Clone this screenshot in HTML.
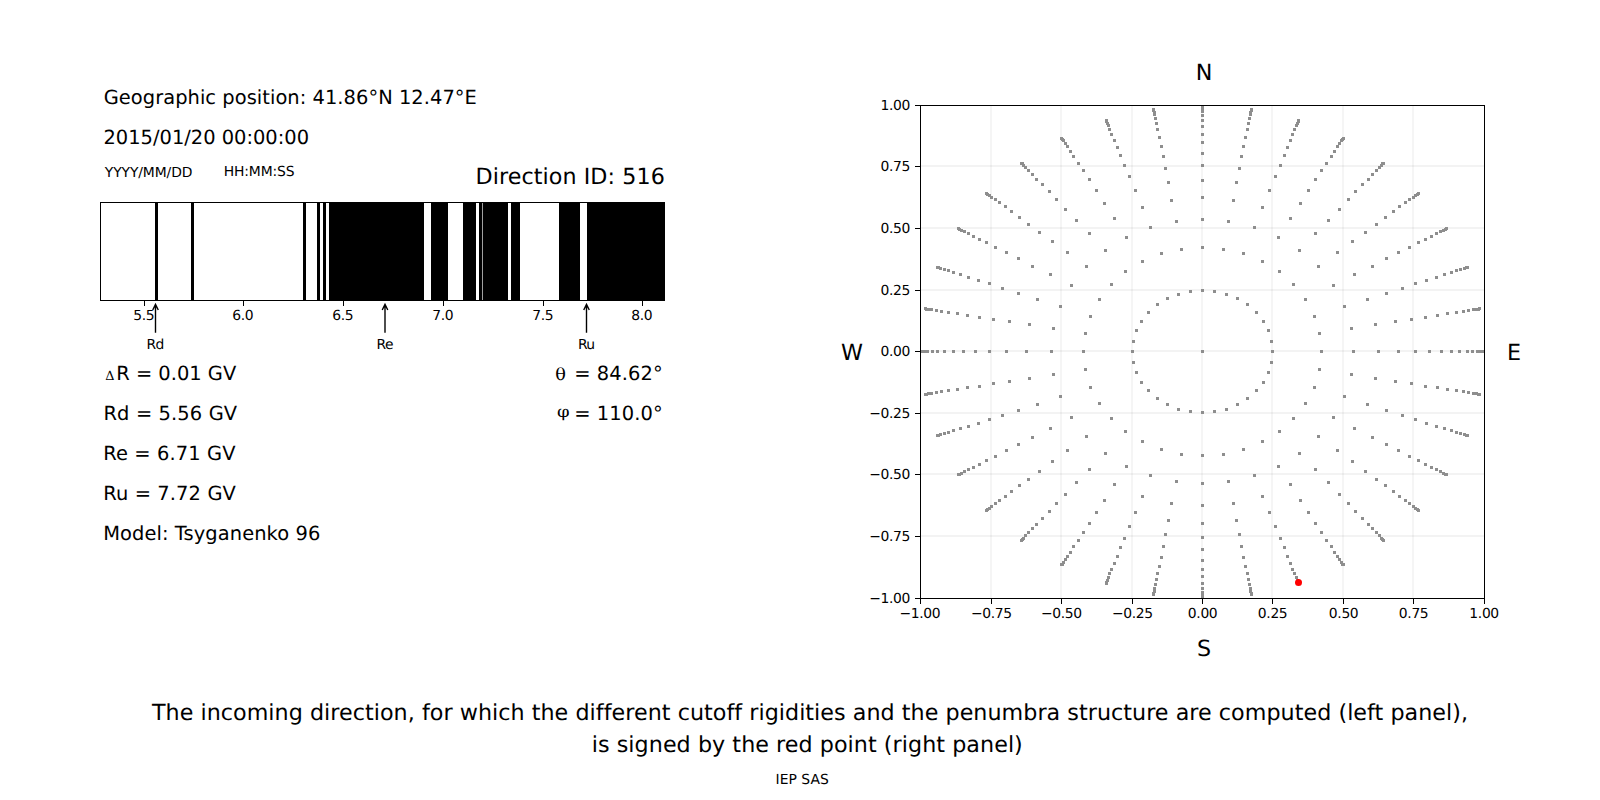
<!DOCTYPE html>
<html lang="en"><head><meta charset="utf-8"><title>Cutoff rigidities</title>
<style>
html,body{margin:0;padding:0;background:#fff;}
body{width:1600px;height:800px;overflow:hidden;}
svg{display:block;position:absolute;left:0;top:0;}
text{font-family:"DejaVu Sans","Liberation Sans",sans-serif;fill:#000;font-variant-ligatures:none;font-feature-settings:"liga" 0,"clig" 0;text-rendering:geometricPrecision;}
.t10{font-size:13.889px}
.t14{font-size:19.444px}
.t16{font-size:22.222px}
.ser{font-family:"DejaVu Serif","Liberation Serif",serif;}
.crisp{shape-rendering:crispEdges}
</style></head><body>
<svg width="1600" height="800" viewBox="0 0 1600 800">
<rect x="0" y="0" width="1600" height="800" fill="#fff"/>

<text class="t14" x="103.75" y="104" letter-spacing="0.0457">Geographic position: 41.86°N 12.47°E</text>
<text class="t14" x="103.5" y="144">2015/01/20 00:00:00</text>
<text class="t10" x="104.85" y="177" letter-spacing="-0.1111">YYYY/MM/DD</text>
<text class="t10" x="223.75" y="176" letter-spacing="-0.1429">HH:MM:SS</text>
<text class="t16" x="475.5" y="184" letter-spacing="0.0781">Direction ID: 516</text>
<g class="crisp">
<rect x="155" y="202" width="3" height="99" fill="#000"/>
<rect x="191" y="202" width="3" height="99" fill="#000"/>
<rect x="303" y="202" width="3" height="99" fill="#000"/>
<rect x="317" y="202" width="3" height="99" fill="#000"/>
<rect x="323" y="202" width="3" height="99" fill="#000"/>
<rect x="329" y="202" width="95" height="99" fill="#000"/>
<rect x="431" y="202" width="17" height="99" fill="#000"/>
<rect x="463" y="202" width="13" height="99" fill="#000"/>
<rect x="479" y="202" width="3" height="99" fill="#000"/>
<rect x="483" y="202" width="25" height="99" fill="#000"/>
<rect x="511" y="202" width="9" height="99" fill="#000"/>
<rect x="559" y="202" width="21" height="99" fill="#000"/>
<rect x="587" y="202" width="78" height="99" fill="#000"/>
<rect x="482" y="203" width="1" height="97" fill="#a0a0a0"/>
<rect x="100" y="202" width="565" height="1" fill="#000"/>
<rect x="100" y="300" width="565" height="1" fill="#000"/>
<rect x="100" y="202" width="1" height="99" fill="#000"/>
<rect x="664" y="202" width="1" height="99" fill="#000"/>
<rect x="144" y="301" width="1" height="5" fill="#000"/>
<rect x="243" y="301" width="1" height="5" fill="#000"/>
<rect x="343" y="301" width="1" height="5" fill="#000"/>
<rect x="443" y="301" width="1" height="5" fill="#000"/>
<rect x="543" y="301" width="1" height="5" fill="#000"/>
<rect x="642" y="301" width="1" height="5" fill="#000"/>
</g>
<text class="t10" x="143.7" y="320" text-anchor="middle" letter-spacing="-0.35">5.5</text>
<text class="t10" x="242.7" y="320" text-anchor="middle" letter-spacing="-0.35">6.0</text>
<text class="t10" x="342.7" y="320" text-anchor="middle" letter-spacing="-0.35">6.5</text>
<text class="t10" x="442.7" y="320" text-anchor="middle" letter-spacing="-0.35">7.0</text>
<text class="t10" x="542.7" y="320" text-anchor="middle" letter-spacing="-0.35">7.5</text>
<text class="t10" x="641.7" y="320" text-anchor="middle" letter-spacing="-0.35">8.0</text>
<path d="M155.5 332.7 L155.5 304.4 M152.72 309.96 L155.5 304.4 L158.28 309.96" fill="none" stroke="#000" stroke-width="1.39" stroke-linecap="butt" stroke-linejoin="miter"/>
<text class="t10" x="155.2" y="349" text-anchor="middle" letter-spacing="-0.6">Rd</text>
<path d="M385 332.7 L385 304.4 M382.22 309.96 L385 304.4 L387.78 309.96" fill="none" stroke="#000" stroke-width="1.39" stroke-linecap="butt" stroke-linejoin="miter"/>
<text class="t10" x="384.7" y="349" text-anchor="middle" letter-spacing="-0.6">Re</text>
<path d="M586.5 332.7 L586.5 304.4 M583.72 309.96 L586.5 304.4 L589.28 309.96" fill="none" stroke="#000" stroke-width="1.39" stroke-linecap="butt" stroke-linejoin="miter"/>
<text class="t10" x="586.2" y="349" text-anchor="middle" letter-spacing="-0.6">Ru</text>
<text class="ser" x="105.2" y="379.9" style="font-size:12.8px">Δ</text>
<text class="t14" x="116.2" y="380" letter-spacing="0.005">R = 0.01 GV</text>
<text class="t14" x="103.5" y="420" letter-spacing="0.1182">Rd = 5.56 GV</text>
<text class="t14" x="103.2" y="460" letter-spacing="0.1182">Re = 6.71 GV</text>
<text class="t14" x="103.2" y="500" letter-spacing="0.1136">Ru = 7.72 GV</text>
<text class="t14" x="103.2" y="540" letter-spacing="0.0789">Model: Tsyganenko 96</text>
<text class="ser" transform="translate(555.35 380) scale(1.06 1)" style="font-size:16.667px">θ</text>
<text class="ser" transform="translate(557.0 416.5) scale(1.08 0.96)" style="font-size:16.667px">φ</text>
<text class="t14" x="574.2" y="380" letter-spacing="0.1">= 84.62°</text>
<text class="t14" x="574.2" y="420" letter-spacing="0.1">= 110.0°</text>
<g class="crisp" fill="#000" fill-opacity="0.04">
<rect x="990" y="106" width="2" height="492"/>
<rect x="1060" y="106" width="2" height="492"/>
<rect x="1131" y="106" width="2" height="492"/>
<rect x="1201" y="106" width="2" height="492"/>
<rect x="1271" y="106" width="2" height="492"/>
<rect x="1342" y="106" width="2" height="492"/>
<rect x="1412" y="106" width="2" height="492"/>
<rect x="921" y="535" width="563" height="2" fill-opacity="0.047"/>
<rect x="921" y="473" width="563" height="2" fill-opacity="0.047"/>
<rect x="921" y="412" width="563" height="2" fill-opacity="0.047"/>
<rect x="921" y="350" width="563" height="2" fill-opacity="0.047"/>
<rect x="921" y="289" width="563" height="2" fill-opacity="0.047"/>
<rect x="921" y="227" width="563" height="2" fill-opacity="0.047"/>
<rect x="921" y="165" width="563" height="2" fill-opacity="0.047"/>
</g>
<clipPath id="c"><rect x="920" y="105" width="565" height="494"/></clipPath>
<g class="crisp" clip-path="url(#c)" fill="#8e8e8e">
<rect x="1201" y="350" width="3" height="3"/>
<rect x="1201" y="289" width="3" height="3"/>
<rect x="1213" y="290" width="3" height="3"/>
<rect x="1225" y="293" width="3" height="3"/>
<rect x="1236" y="297" width="3" height="3"/>
<rect x="1246" y="303" width="3" height="3"/>
<rect x="1255" y="311" width="3" height="3"/>
<rect x="1262" y="320" width="3" height="3"/>
<rect x="1267" y="329" width="3" height="3"/>
<rect x="1270" y="340" width="3" height="3"/>
<rect x="1271" y="350" width="3" height="3"/>
<rect x="1270" y="361" width="3" height="3"/>
<rect x="1267" y="371" width="3" height="3"/>
<rect x="1262" y="381" width="3" height="3"/>
<rect x="1255" y="389" width="3" height="3"/>
<rect x="1246" y="397" width="3" height="3"/>
<rect x="1236" y="403" width="3" height="3"/>
<rect x="1225" y="408" width="3" height="3"/>
<rect x="1213" y="410" width="3" height="3"/>
<rect x="1201" y="411" width="3" height="3"/>
<rect x="1189" y="410" width="3" height="3"/>
<rect x="1177" y="408" width="3" height="3"/>
<rect x="1166" y="403" width="3" height="3"/>
<rect x="1156" y="397" width="3" height="3"/>
<rect x="1147" y="389" width="3" height="3"/>
<rect x="1140" y="381" width="3" height="3"/>
<rect x="1135" y="371" width="3" height="3"/>
<rect x="1132" y="361" width="3" height="3"/>
<rect x="1131" y="350" width="3" height="3"/>
<rect x="1132" y="340" width="3" height="3"/>
<rect x="1135" y="329" width="3" height="3"/>
<rect x="1140" y="320" width="3" height="3"/>
<rect x="1147" y="311" width="3" height="3"/>
<rect x="1156" y="303" width="3" height="3"/>
<rect x="1166" y="297" width="3" height="3"/>
<rect x="1177" y="293" width="3" height="3"/>
<rect x="1189" y="290" width="3" height="3"/>
<rect x="1201" y="246" width="3" height="3"/>
<rect x="1222" y="248" width="3" height="3"/>
<rect x="1242" y="252" width="3" height="3"/>
<rect x="1261" y="260" width="3" height="3"/>
<rect x="1278" y="270" width="3" height="3"/>
<rect x="1292" y="283" width="3" height="3"/>
<rect x="1304" y="298" width="3" height="3"/>
<rect x="1313" y="315" width="3" height="3"/>
<rect x="1318" y="332" width="3" height="3"/>
<rect x="1320" y="350" width="3" height="3"/>
<rect x="1318" y="368" width="3" height="3"/>
<rect x="1313" y="386" width="3" height="3"/>
<rect x="1304" y="402" width="3" height="3"/>
<rect x="1292" y="417" width="3" height="3"/>
<rect x="1278" y="430" width="3" height="3"/>
<rect x="1261" y="440" width="3" height="3"/>
<rect x="1242" y="448" width="3" height="3"/>
<rect x="1222" y="453" width="3" height="3"/>
<rect x="1201" y="454" width="3" height="3"/>
<rect x="1180" y="453" width="3" height="3"/>
<rect x="1160" y="448" width="3" height="3"/>
<rect x="1141" y="440" width="3" height="3"/>
<rect x="1124" y="430" width="3" height="3"/>
<rect x="1110" y="417" width="3" height="3"/>
<rect x="1098" y="402" width="3" height="3"/>
<rect x="1089" y="386" width="3" height="3"/>
<rect x="1084" y="368" width="3" height="3"/>
<rect x="1082" y="350" width="3" height="3"/>
<rect x="1084" y="332" width="3" height="3"/>
<rect x="1089" y="315" width="3" height="3"/>
<rect x="1098" y="298" width="3" height="3"/>
<rect x="1110" y="283" width="3" height="3"/>
<rect x="1124" y="270" width="3" height="3"/>
<rect x="1141" y="260" width="3" height="3"/>
<rect x="1160" y="252" width="3" height="3"/>
<rect x="1180" y="248" width="3" height="3"/>
<rect x="1201" y="218" width="3" height="3"/>
<rect x="1227" y="220" width="3" height="3"/>
<rect x="1253" y="226" width="3" height="3"/>
<rect x="1277" y="236" width="3" height="3"/>
<rect x="1298" y="249" width="3" height="3"/>
<rect x="1317" y="265" width="3" height="3"/>
<rect x="1332" y="284" width="3" height="3"/>
<rect x="1343" y="305" width="3" height="3"/>
<rect x="1350" y="327" width="3" height="3"/>
<rect x="1352" y="350" width="3" height="3"/>
<rect x="1350" y="373" width="3" height="3"/>
<rect x="1343" y="395" width="3" height="3"/>
<rect x="1332" y="416" width="3" height="3"/>
<rect x="1317" y="435" width="3" height="3"/>
<rect x="1298" y="452" width="3" height="3"/>
<rect x="1277" y="465" width="3" height="3"/>
<rect x="1253" y="474" width="3" height="3"/>
<rect x="1227" y="480" width="3" height="3"/>
<rect x="1201" y="482" width="3" height="3"/>
<rect x="1175" y="480" width="3" height="3"/>
<rect x="1149" y="474" width="3" height="3"/>
<rect x="1125" y="465" width="3" height="3"/>
<rect x="1104" y="452" width="3" height="3"/>
<rect x="1085" y="435" width="3" height="3"/>
<rect x="1070" y="416" width="3" height="3"/>
<rect x="1059" y="395" width="3" height="3"/>
<rect x="1052" y="373" width="3" height="3"/>
<rect x="1050" y="350" width="3" height="3"/>
<rect x="1052" y="327" width="3" height="3"/>
<rect x="1059" y="305" width="3" height="3"/>
<rect x="1070" y="284" width="3" height="3"/>
<rect x="1085" y="265" width="3" height="3"/>
<rect x="1104" y="249" width="3" height="3"/>
<rect x="1125" y="236" width="3" height="3"/>
<rect x="1149" y="226" width="3" height="3"/>
<rect x="1175" y="220" width="3" height="3"/>
<rect x="1201" y="196" width="3" height="3"/>
<rect x="1232" y="199" width="3" height="3"/>
<rect x="1261" y="206" width="3" height="3"/>
<rect x="1289" y="217" width="3" height="3"/>
<rect x="1314" y="232" width="3" height="3"/>
<rect x="1336" y="251" width="3" height="3"/>
<rect x="1353" y="273" width="3" height="3"/>
<rect x="1366" y="298" width="3" height="3"/>
<rect x="1374" y="323" width="3" height="3"/>
<rect x="1377" y="350" width="3" height="3"/>
<rect x="1374" y="377" width="3" height="3"/>
<rect x="1366" y="403" width="3" height="3"/>
<rect x="1353" y="427" width="3" height="3"/>
<rect x="1336" y="449" width="3" height="3"/>
<rect x="1314" y="468" width="3" height="3"/>
<rect x="1289" y="483" width="3" height="3"/>
<rect x="1261" y="495" width="3" height="3"/>
<rect x="1232" y="502" width="3" height="3"/>
<rect x="1201" y="504" width="3" height="3"/>
<rect x="1170" y="502" width="3" height="3"/>
<rect x="1141" y="495" width="3" height="3"/>
<rect x="1113" y="483" width="3" height="3"/>
<rect x="1088" y="468" width="3" height="3"/>
<rect x="1066" y="449" width="3" height="3"/>
<rect x="1049" y="427" width="3" height="3"/>
<rect x="1036" y="403" width="3" height="3"/>
<rect x="1028" y="377" width="3" height="3"/>
<rect x="1025" y="350" width="3" height="3"/>
<rect x="1028" y="323" width="3" height="3"/>
<rect x="1036" y="298" width="3" height="3"/>
<rect x="1049" y="273" width="3" height="3"/>
<rect x="1066" y="251" width="3" height="3"/>
<rect x="1088" y="232" width="3" height="3"/>
<rect x="1113" y="217" width="3" height="3"/>
<rect x="1141" y="206" width="3" height="3"/>
<rect x="1170" y="199" width="3" height="3"/>
<rect x="1201" y="179" width="3" height="3"/>
<rect x="1235" y="181" width="3" height="3"/>
<rect x="1268" y="189" width="3" height="3"/>
<rect x="1299" y="202" width="3" height="3"/>
<rect x="1327" y="219" width="3" height="3"/>
<rect x="1351" y="240" width="3" height="3"/>
<rect x="1371" y="265" width="3" height="3"/>
<rect x="1385" y="292" width="3" height="3"/>
<rect x="1394" y="320" width="3" height="3"/>
<rect x="1397" y="350" width="3" height="3"/>
<rect x="1394" y="380" width="3" height="3"/>
<rect x="1385" y="409" width="3" height="3"/>
<rect x="1371" y="436" width="3" height="3"/>
<rect x="1351" y="460" width="3" height="3"/>
<rect x="1327" y="481" width="3" height="3"/>
<rect x="1299" y="499" width="3" height="3"/>
<rect x="1268" y="511" width="3" height="3"/>
<rect x="1235" y="519" width="3" height="3"/>
<rect x="1201" y="522" width="3" height="3"/>
<rect x="1167" y="519" width="3" height="3"/>
<rect x="1134" y="511" width="3" height="3"/>
<rect x="1103" y="499" width="3" height="3"/>
<rect x="1075" y="481" width="3" height="3"/>
<rect x="1051" y="460" width="3" height="3"/>
<rect x="1031" y="436" width="3" height="3"/>
<rect x="1017" y="409" width="3" height="3"/>
<rect x="1008" y="380" width="3" height="3"/>
<rect x="1005" y="350" width="3" height="3"/>
<rect x="1008" y="320" width="3" height="3"/>
<rect x="1017" y="292" width="3" height="3"/>
<rect x="1031" y="265" width="3" height="3"/>
<rect x="1051" y="240" width="3" height="3"/>
<rect x="1075" y="219" width="3" height="3"/>
<rect x="1103" y="202" width="3" height="3"/>
<rect x="1134" y="189" width="3" height="3"/>
<rect x="1167" y="181" width="3" height="3"/>
<rect x="1201" y="164" width="3" height="3"/>
<rect x="1238" y="167" width="3" height="3"/>
<rect x="1274" y="175" width="3" height="3"/>
<rect x="1307" y="189" width="3" height="3"/>
<rect x="1338" y="208" width="3" height="3"/>
<rect x="1364" y="231" width="3" height="3"/>
<rect x="1385" y="257" width="3" height="3"/>
<rect x="1401" y="287" width="3" height="3"/>
<rect x="1410" y="318" width="3" height="3"/>
<rect x="1414" y="350" width="3" height="3"/>
<rect x="1410" y="382" width="3" height="3"/>
<rect x="1401" y="414" width="3" height="3"/>
<rect x="1385" y="443" width="3" height="3"/>
<rect x="1364" y="470" width="3" height="3"/>
<rect x="1338" y="493" width="3" height="3"/>
<rect x="1307" y="511" width="3" height="3"/>
<rect x="1274" y="525" width="3" height="3"/>
<rect x="1238" y="533" width="3" height="3"/>
<rect x="1201" y="536" width="3" height="3"/>
<rect x="1164" y="533" width="3" height="3"/>
<rect x="1128" y="525" width="3" height="3"/>
<rect x="1095" y="511" width="3" height="3"/>
<rect x="1064" y="493" width="3" height="3"/>
<rect x="1038" y="470" width="3" height="3"/>
<rect x="1017" y="443" width="3" height="3"/>
<rect x="1001" y="414" width="3" height="3"/>
<rect x="992" y="382" width="3" height="3"/>
<rect x="988" y="350" width="3" height="3"/>
<rect x="992" y="318" width="3" height="3"/>
<rect x="1001" y="287" width="3" height="3"/>
<rect x="1017" y="257" width="3" height="3"/>
<rect x="1038" y="231" width="3" height="3"/>
<rect x="1064" y="208" width="3" height="3"/>
<rect x="1095" y="189" width="3" height="3"/>
<rect x="1128" y="175" width="3" height="3"/>
<rect x="1164" y="167" width="3" height="3"/>
<rect x="1201" y="152" width="3" height="3"/>
<rect x="1240" y="155" width="3" height="3"/>
<rect x="1279" y="164" width="3" height="3"/>
<rect x="1314" y="178" width="3" height="3"/>
<rect x="1347" y="198" width="3" height="3"/>
<rect x="1375" y="223" width="3" height="3"/>
<rect x="1397" y="251" width="3" height="3"/>
<rect x="1414" y="282" width="3" height="3"/>
<rect x="1424" y="316" width="3" height="3"/>
<rect x="1428" y="350" width="3" height="3"/>
<rect x="1424" y="385" width="3" height="3"/>
<rect x="1414" y="418" width="3" height="3"/>
<rect x="1397" y="449" width="3" height="3"/>
<rect x="1375" y="478" width="3" height="3"/>
<rect x="1347" y="502" width="3" height="3"/>
<rect x="1314" y="522" width="3" height="3"/>
<rect x="1279" y="537" width="3" height="3"/>
<rect x="1240" y="545" width="3" height="3"/>
<rect x="1201" y="548" width="3" height="3"/>
<rect x="1162" y="545" width="3" height="3"/>
<rect x="1123" y="537" width="3" height="3"/>
<rect x="1088" y="522" width="3" height="3"/>
<rect x="1055" y="502" width="3" height="3"/>
<rect x="1027" y="478" width="3" height="3"/>
<rect x="1005" y="449" width="3" height="3"/>
<rect x="988" y="418" width="3" height="3"/>
<rect x="978" y="385" width="3" height="3"/>
<rect x="974" y="350" width="3" height="3"/>
<rect x="978" y="316" width="3" height="3"/>
<rect x="988" y="282" width="3" height="3"/>
<rect x="1005" y="251" width="3" height="3"/>
<rect x="1027" y="223" width="3" height="3"/>
<rect x="1055" y="198" width="3" height="3"/>
<rect x="1088" y="178" width="3" height="3"/>
<rect x="1123" y="164" width="3" height="3"/>
<rect x="1162" y="155" width="3" height="3"/>
<rect x="1201" y="141" width="3" height="3"/>
<rect x="1242" y="145" width="3" height="3"/>
<rect x="1283" y="154" width="3" height="3"/>
<rect x="1320" y="169" width="3" height="3"/>
<rect x="1354" y="190" width="3" height="3"/>
<rect x="1384" y="216" width="3" height="3"/>
<rect x="1408" y="246" width="3" height="3"/>
<rect x="1425" y="279" width="3" height="3"/>
<rect x="1436" y="314" width="3" height="3"/>
<rect x="1440" y="350" width="3" height="3"/>
<rect x="1436" y="386" width="3" height="3"/>
<rect x="1425" y="422" width="3" height="3"/>
<rect x="1408" y="455" width="3" height="3"/>
<rect x="1384" y="484" width="3" height="3"/>
<rect x="1354" y="510" width="3" height="3"/>
<rect x="1320" y="531" width="3" height="3"/>
<rect x="1283" y="546" width="3" height="3"/>
<rect x="1242" y="556" width="3" height="3"/>
<rect x="1201" y="559" width="3" height="3"/>
<rect x="1160" y="556" width="3" height="3"/>
<rect x="1119" y="546" width="3" height="3"/>
<rect x="1082" y="531" width="3" height="3"/>
<rect x="1048" y="510" width="3" height="3"/>
<rect x="1018" y="484" width="3" height="3"/>
<rect x="994" y="455" width="3" height="3"/>
<rect x="977" y="422" width="3" height="3"/>
<rect x="966" y="386" width="3" height="3"/>
<rect x="962" y="350" width="3" height="3"/>
<rect x="966" y="314" width="3" height="3"/>
<rect x="977" y="279" width="3" height="3"/>
<rect x="994" y="246" width="3" height="3"/>
<rect x="1018" y="216" width="3" height="3"/>
<rect x="1048" y="190" width="3" height="3"/>
<rect x="1082" y="169" width="3" height="3"/>
<rect x="1119" y="154" width="3" height="3"/>
<rect x="1160" y="145" width="3" height="3"/>
<rect x="1201" y="133" width="3" height="3"/>
<rect x="1244" y="136" width="3" height="3"/>
<rect x="1286" y="146" width="3" height="3"/>
<rect x="1325" y="162" width="3" height="3"/>
<rect x="1361" y="183" width="3" height="3"/>
<rect x="1392" y="210" width="3" height="3"/>
<rect x="1417" y="241" width="3" height="3"/>
<rect x="1435" y="276" width="3" height="3"/>
<rect x="1446" y="312" width="3" height="3"/>
<rect x="1450" y="350" width="3" height="3"/>
<rect x="1446" y="388" width="3" height="3"/>
<rect x="1435" y="425" width="3" height="3"/>
<rect x="1417" y="459" width="3" height="3"/>
<rect x="1392" y="490" width="3" height="3"/>
<rect x="1361" y="517" width="3" height="3"/>
<rect x="1325" y="539" width="3" height="3"/>
<rect x="1286" y="555" width="3" height="3"/>
<rect x="1244" y="565" width="3" height="3"/>
<rect x="1201" y="568" width="3" height="3"/>
<rect x="1158" y="565" width="3" height="3"/>
<rect x="1116" y="555" width="3" height="3"/>
<rect x="1077" y="539" width="3" height="3"/>
<rect x="1041" y="517" width="3" height="3"/>
<rect x="1010" y="490" width="3" height="3"/>
<rect x="985" y="459" width="3" height="3"/>
<rect x="967" y="425" width="3" height="3"/>
<rect x="956" y="388" width="3" height="3"/>
<rect x="952" y="350" width="3" height="3"/>
<rect x="956" y="312" width="3" height="3"/>
<rect x="967" y="276" width="3" height="3"/>
<rect x="985" y="241" width="3" height="3"/>
<rect x="1010" y="210" width="3" height="3"/>
<rect x="1041" y="183" width="3" height="3"/>
<rect x="1077" y="162" width="3" height="3"/>
<rect x="1116" y="146" width="3" height="3"/>
<rect x="1158" y="136" width="3" height="3"/>
<rect x="1201" y="125" width="3" height="3"/>
<rect x="1246" y="128" width="3" height="3"/>
<rect x="1289" y="139" width="3" height="3"/>
<rect x="1330" y="155" width="3" height="3"/>
<rect x="1367" y="178" width="3" height="3"/>
<rect x="1398" y="205" width="3" height="3"/>
<rect x="1424" y="238" width="3" height="3"/>
<rect x="1443" y="273" width="3" height="3"/>
<rect x="1455" y="311" width="3" height="3"/>
<rect x="1458" y="350" width="3" height="3"/>
<rect x="1455" y="389" width="3" height="3"/>
<rect x="1443" y="427" width="3" height="3"/>
<rect x="1424" y="463" width="3" height="3"/>
<rect x="1398" y="495" width="3" height="3"/>
<rect x="1367" y="523" width="3" height="3"/>
<rect x="1330" y="545" width="3" height="3"/>
<rect x="1289" y="562" width="3" height="3"/>
<rect x="1246" y="572" width="3" height="3"/>
<rect x="1201" y="575" width="3" height="3"/>
<rect x="1156" y="572" width="3" height="3"/>
<rect x="1113" y="562" width="3" height="3"/>
<rect x="1072" y="545" width="3" height="3"/>
<rect x="1035" y="523" width="3" height="3"/>
<rect x="1004" y="495" width="3" height="3"/>
<rect x="978" y="463" width="3" height="3"/>
<rect x="959" y="427" width="3" height="3"/>
<rect x="947" y="389" width="3" height="3"/>
<rect x="943" y="350" width="3" height="3"/>
<rect x="947" y="311" width="3" height="3"/>
<rect x="959" y="273" width="3" height="3"/>
<rect x="978" y="238" width="3" height="3"/>
<rect x="1004" y="205" width="3" height="3"/>
<rect x="1035" y="178" width="3" height="3"/>
<rect x="1072" y="155" width="3" height="3"/>
<rect x="1113" y="139" width="3" height="3"/>
<rect x="1156" y="128" width="3" height="3"/>
<rect x="1201" y="119" width="3" height="3"/>
<rect x="1247" y="122" width="3" height="3"/>
<rect x="1291" y="133" width="3" height="3"/>
<rect x="1333" y="150" width="3" height="3"/>
<rect x="1371" y="173" width="3" height="3"/>
<rect x="1404" y="201" width="3" height="3"/>
<rect x="1430" y="235" width="3" height="3"/>
<rect x="1450" y="271" width="3" height="3"/>
<rect x="1462" y="310" width="3" height="3"/>
<rect x="1466" y="350" width="3" height="3"/>
<rect x="1462" y="390" width="3" height="3"/>
<rect x="1450" y="429" width="3" height="3"/>
<rect x="1430" y="466" width="3" height="3"/>
<rect x="1404" y="499" width="3" height="3"/>
<rect x="1371" y="527" width="3" height="3"/>
<rect x="1333" y="551" width="3" height="3"/>
<rect x="1291" y="568" width="3" height="3"/>
<rect x="1247" y="578" width="3" height="3"/>
<rect x="1201" y="582" width="3" height="3"/>
<rect x="1155" y="578" width="3" height="3"/>
<rect x="1110" y="568" width="3" height="3"/>
<rect x="1069" y="551" width="3" height="3"/>
<rect x="1031" y="527" width="3" height="3"/>
<rect x="998" y="499" width="3" height="3"/>
<rect x="972" y="466" width="3" height="3"/>
<rect x="952" y="429" width="3" height="3"/>
<rect x="940" y="390" width="3" height="3"/>
<rect x="936" y="350" width="3" height="3"/>
<rect x="940" y="310" width="3" height="3"/>
<rect x="952" y="271" width="3" height="3"/>
<rect x="972" y="235" width="3" height="3"/>
<rect x="998" y="201" width="3" height="3"/>
<rect x="1031" y="173" width="3" height="3"/>
<rect x="1069" y="150" width="3" height="3"/>
<rect x="1110" y="133" width="3" height="3"/>
<rect x="1155" y="122" width="3" height="3"/>
<rect x="1201" y="114" width="3" height="3"/>
<rect x="1248" y="117" width="3" height="3"/>
<rect x="1293" y="128" width="3" height="3"/>
<rect x="1336" y="145" width="3" height="3"/>
<rect x="1375" y="169" width="3" height="3"/>
<rect x="1408" y="198" width="3" height="3"/>
<rect x="1435" y="232" width="3" height="3"/>
<rect x="1455" y="269" width="3" height="3"/>
<rect x="1467" y="309" width="3" height="3"/>
<rect x="1471" y="350" width="3" height="3"/>
<rect x="1467" y="391" width="3" height="3"/>
<rect x="1455" y="431" width="3" height="3"/>
<rect x="1435" y="468" width="3" height="3"/>
<rect x="1408" y="502" width="3" height="3"/>
<rect x="1375" y="531" width="3" height="3"/>
<rect x="1336" y="555" width="3" height="3"/>
<rect x="1293" y="572" width="3" height="3"/>
<rect x="1248" y="583" width="3" height="3"/>
<rect x="1201" y="587" width="3" height="3"/>
<rect x="1154" y="583" width="3" height="3"/>
<rect x="1108" y="572" width="3" height="3"/>
<rect x="1066" y="555" width="3" height="3"/>
<rect x="1027" y="531" width="3" height="3"/>
<rect x="994" y="502" width="3" height="3"/>
<rect x="967" y="468" width="3" height="3"/>
<rect x="947" y="431" width="3" height="3"/>
<rect x="935" y="391" width="3" height="3"/>
<rect x="931" y="350" width="3" height="3"/>
<rect x="935" y="309" width="3" height="3"/>
<rect x="947" y="269" width="3" height="3"/>
<rect x="967" y="232" width="3" height="3"/>
<rect x="994" y="198" width="3" height="3"/>
<rect x="1027" y="169" width="3" height="3"/>
<rect x="1066" y="145" width="3" height="3"/>
<rect x="1108" y="128" width="3" height="3"/>
<rect x="1154" y="117" width="3" height="3"/>
<rect x="1201" y="110" width="3" height="3"/>
<rect x="1249" y="113" width="3" height="3"/>
<rect x="1295" y="124" width="3" height="3"/>
<rect x="1338" y="142" width="3" height="3"/>
<rect x="1378" y="166" width="3" height="3"/>
<rect x="1412" y="196" width="3" height="3"/>
<rect x="1439" y="230" width="3" height="3"/>
<rect x="1459" y="268" width="3" height="3"/>
<rect x="1472" y="308" width="3" height="3"/>
<rect x="1476" y="350" width="3" height="3"/>
<rect x="1472" y="392" width="3" height="3"/>
<rect x="1459" y="432" width="3" height="3"/>
<rect x="1439" y="470" width="3" height="3"/>
<rect x="1412" y="505" width="3" height="3"/>
<rect x="1378" y="534" width="3" height="3"/>
<rect x="1338" y="558" width="3" height="3"/>
<rect x="1295" y="576" width="3" height="3"/>
<rect x="1249" y="587" width="3" height="3"/>
<rect x="1201" y="591" width="3" height="3"/>
<rect x="1153" y="587" width="3" height="3"/>
<rect x="1107" y="576" width="3" height="3"/>
<rect x="1064" y="558" width="3" height="3"/>
<rect x="1024" y="534" width="3" height="3"/>
<rect x="990" y="505" width="3" height="3"/>
<rect x="963" y="470" width="3" height="3"/>
<rect x="943" y="432" width="3" height="3"/>
<rect x="930" y="392" width="3" height="3"/>
<rect x="926" y="350" width="3" height="3"/>
<rect x="930" y="308" width="3" height="3"/>
<rect x="943" y="268" width="3" height="3"/>
<rect x="963" y="230" width="3" height="3"/>
<rect x="990" y="196" width="3" height="3"/>
<rect x="1024" y="166" width="3" height="3"/>
<rect x="1064" y="142" width="3" height="3"/>
<rect x="1107" y="124" width="3" height="3"/>
<rect x="1153" y="113" width="3" height="3"/>
<rect x="1201" y="107" width="3" height="3"/>
<rect x="1249" y="111" width="3" height="3"/>
<rect x="1296" y="122" width="3" height="3"/>
<rect x="1340" y="139" width="3" height="3"/>
<rect x="1380" y="164" width="3" height="3"/>
<rect x="1414" y="194" width="3" height="3"/>
<rect x="1442" y="229" width="3" height="3"/>
<rect x="1463" y="267" width="3" height="3"/>
<rect x="1475" y="308" width="3" height="3"/>
<rect x="1479" y="350" width="3" height="3"/>
<rect x="1475" y="392" width="3" height="3"/>
<rect x="1463" y="433" width="3" height="3"/>
<rect x="1442" y="472" width="3" height="3"/>
<rect x="1414" y="507" width="3" height="3"/>
<rect x="1380" y="537" width="3" height="3"/>
<rect x="1340" y="561" width="3" height="3"/>
<rect x="1296" y="579" width="3" height="3"/>
<rect x="1249" y="590" width="3" height="3"/>
<rect x="1201" y="594" width="3" height="3"/>
<rect x="1153" y="590" width="3" height="3"/>
<rect x="1106" y="579" width="3" height="3"/>
<rect x="1062" y="561" width="3" height="3"/>
<rect x="1022" y="537" width="3" height="3"/>
<rect x="988" y="507" width="3" height="3"/>
<rect x="960" y="472" width="3" height="3"/>
<rect x="939" y="433" width="3" height="3"/>
<rect x="927" y="392" width="3" height="3"/>
<rect x="923" y="350" width="3" height="3"/>
<rect x="927" y="308" width="3" height="3"/>
<rect x="939" y="267" width="3" height="3"/>
<rect x="960" y="229" width="3" height="3"/>
<rect x="988" y="194" width="3" height="3"/>
<rect x="1022" y="164" width="3" height="3"/>
<rect x="1062" y="139" width="3" height="3"/>
<rect x="1106" y="122" width="3" height="3"/>
<rect x="1153" y="111" width="3" height="3"/>
<rect x="1201" y="105" width="3" height="3"/>
<rect x="1250" y="109" width="3" height="3"/>
<rect x="1297" y="120" width="3" height="3"/>
<rect x="1341" y="138" width="3" height="3"/>
<rect x="1381" y="162" width="3" height="3"/>
<rect x="1416" y="193" width="3" height="3"/>
<rect x="1444" y="228" width="3" height="3"/>
<rect x="1465" y="266" width="3" height="3"/>
<rect x="1477" y="308" width="3" height="3"/>
<rect x="1482" y="350" width="3" height="3"/>
<rect x="1477" y="393" width="3" height="3"/>
<rect x="1465" y="434" width="3" height="3"/>
<rect x="1444" y="473" width="3" height="3"/>
<rect x="1416" y="508" width="3" height="3"/>
<rect x="1381" y="538" width="3" height="3"/>
<rect x="1341" y="563" width="3" height="3"/>
<rect x="1297" y="581" width="3" height="3"/>
<rect x="1250" y="592" width="3" height="3"/>
<rect x="1201" y="596" width="3" height="3"/>
<rect x="1152" y="592" width="3" height="3"/>
<rect x="1105" y="581" width="3" height="3"/>
<rect x="1061" y="563" width="3" height="3"/>
<rect x="1021" y="538" width="3" height="3"/>
<rect x="986" y="508" width="3" height="3"/>
<rect x="958" y="473" width="3" height="3"/>
<rect x="937" y="434" width="3" height="3"/>
<rect x="925" y="393" width="3" height="3"/>
<rect x="920" y="350" width="3" height="3"/>
<rect x="925" y="308" width="3" height="3"/>
<rect x="937" y="266" width="3" height="3"/>
<rect x="958" y="228" width="3" height="3"/>
<rect x="986" y="193" width="3" height="3"/>
<rect x="1021" y="162" width="3" height="3"/>
<rect x="1061" y="138" width="3" height="3"/>
<rect x="1105" y="120" width="3" height="3"/>
<rect x="1152" y="109" width="3" height="3"/>
<rect x="1201" y="104" width="3" height="3"/>
<rect x="1250" y="108" width="3" height="3"/>
<rect x="1297" y="119" width="3" height="3"/>
<rect x="1342" y="137" width="3" height="3"/>
<rect x="1382" y="162" width="3" height="3"/>
<rect x="1417" y="192" width="3" height="3"/>
<rect x="1445" y="227" width="3" height="3"/>
<rect x="1466" y="266" width="3" height="3"/>
<rect x="1478" y="307" width="3" height="3"/>
<rect x="1483" y="350" width="3" height="3"/>
<rect x="1478" y="393" width="3" height="3"/>
<rect x="1466" y="434" width="3" height="3"/>
<rect x="1445" y="473" width="3" height="3"/>
<rect x="1417" y="509" width="3" height="3"/>
<rect x="1382" y="539" width="3" height="3"/>
<rect x="1342" y="563" width="3" height="3"/>
<rect x="1297" y="582" width="3" height="3"/>
<rect x="1250" y="593" width="3" height="3"/>
<rect x="1201" y="596" width="3" height="3"/>
<rect x="1152" y="593" width="3" height="3"/>
<rect x="1105" y="582" width="3" height="3"/>
<rect x="1060" y="563" width="3" height="3"/>
<rect x="1020" y="539" width="3" height="3"/>
<rect x="985" y="509" width="3" height="3"/>
<rect x="957" y="473" width="3" height="3"/>
<rect x="936" y="434" width="3" height="3"/>
<rect x="924" y="393" width="3" height="3"/>
<rect x="919" y="350" width="3" height="3"/>
<rect x="924" y="307" width="3" height="3"/>
<rect x="936" y="266" width="3" height="3"/>
<rect x="957" y="227" width="3" height="3"/>
<rect x="985" y="192" width="3" height="3"/>
<rect x="1020" y="162" width="3" height="3"/>
<rect x="1060" y="137" width="3" height="3"/>
<rect x="1105" y="119" width="3" height="3"/>
<rect x="1152" y="108" width="3" height="3"/>
</g>
<circle cx="1298.5" cy="582.5" r="3.5" fill="#ff0000"/>
<g class="crisp">
<rect x="920" y="105" width="565" height="1" fill="#000"/>
<rect x="920" y="598" width="565" height="1" fill="#000"/>
<rect x="920" y="105" width="1" height="494" fill="#000"/>
<rect x="1484" y="105" width="1" height="494" fill="#000"/>
<rect x="920" y="599" width="1" height="5" fill="#000"/>
<rect x="915" y="598" width="5" height="1" fill="#000"/>
<rect x="991" y="599" width="1" height="5" fill="#000"/>
<rect x="915" y="536" width="5" height="1" fill="#000"/>
<rect x="1061" y="599" width="1" height="5" fill="#000"/>
<rect x="915" y="474" width="5" height="1" fill="#000"/>
<rect x="1132" y="599" width="1" height="5" fill="#000"/>
<rect x="915" y="413" width="5" height="1" fill="#000"/>
<rect x="1202" y="599" width="1" height="5" fill="#000"/>
<rect x="915" y="351" width="5" height="1" fill="#000"/>
<rect x="1272" y="599" width="1" height="5" fill="#000"/>
<rect x="915" y="290" width="5" height="1" fill="#000"/>
<rect x="1343" y="599" width="1" height="5" fill="#000"/>
<rect x="915" y="228" width="5" height="1" fill="#000"/>
<rect x="1413" y="599" width="1" height="5" fill="#000"/>
<rect x="915" y="166" width="5" height="1" fill="#000"/>
<rect x="1484" y="599" width="1" height="5" fill="#000"/>
<rect x="915" y="105" width="5" height="1" fill="#000"/>
</g>
<text class="t10" x="919.8" y="618" text-anchor="middle" letter-spacing="-0.35">−1.00</text>
<text class="t10" x="910.0" y="603.3" text-anchor="end" letter-spacing="-0.35">−1.00</text>
<text class="t10" x="991.3" y="618" text-anchor="middle" letter-spacing="-0.35">−0.75</text>
<text class="t10" x="910.0" y="541.3" text-anchor="end" letter-spacing="-0.35">−0.75</text>
<text class="t10" x="1061.3" y="618" text-anchor="middle" letter-spacing="-0.35">−0.50</text>
<text class="t10" x="910.0" y="479.3" text-anchor="end" letter-spacing="-0.35">−0.50</text>
<text class="t10" x="1132.3" y="618" text-anchor="middle" letter-spacing="-0.35">−0.25</text>
<text class="t10" x="910.0" y="418.3" text-anchor="end" letter-spacing="-0.35">−0.25</text>
<text class="t10" x="1202.6" y="618" text-anchor="middle" letter-spacing="-0.35">0.00</text>
<text class="t10" x="910.0" y="356.3" text-anchor="end" letter-spacing="-0.35">0.00</text>
<text class="t10" x="1272.6" y="618" text-anchor="middle" letter-spacing="-0.35">0.25</text>
<text class="t10" x="910.0" y="295.3" text-anchor="end" letter-spacing="-0.35">0.25</text>
<text class="t10" x="1343.6" y="618" text-anchor="middle" letter-spacing="-0.35">0.50</text>
<text class="t10" x="910.0" y="233.3" text-anchor="end" letter-spacing="-0.35">0.50</text>
<text class="t10" x="1413.6" y="618" text-anchor="middle" letter-spacing="-0.35">0.75</text>
<text class="t10" x="910.0" y="171.3" text-anchor="end" letter-spacing="-0.35">0.75</text>
<text class="t10" x="1484.1" y="618" text-anchor="middle" letter-spacing="-0.35">1.00</text>
<text class="t10" x="910.0" y="110.3" text-anchor="end" letter-spacing="-0.35">1.00</text>
<text class="t16" x="1195.82" y="80">N</text>
<text class="t16" x="1197.0" y="656">S</text>
<text class="t16" x="840.92" y="360">W</text>
<text class="t16" x="1507.02" y="360">E</text>
<text class="t16" x="151.9" y="720" letter-spacing="0.0424">The incoming direction, for which the different cutoff rigidities and the penumbra structure are computed (left panel),</text>
<text class="t16" x="591.75" y="752" letter-spacing="0.0551">is signed by the red point (right panel)</text>
<text class="t10" x="775.5" y="784" letter-spacing="0.0583">IEP SAS</text>
</svg></body></html>
